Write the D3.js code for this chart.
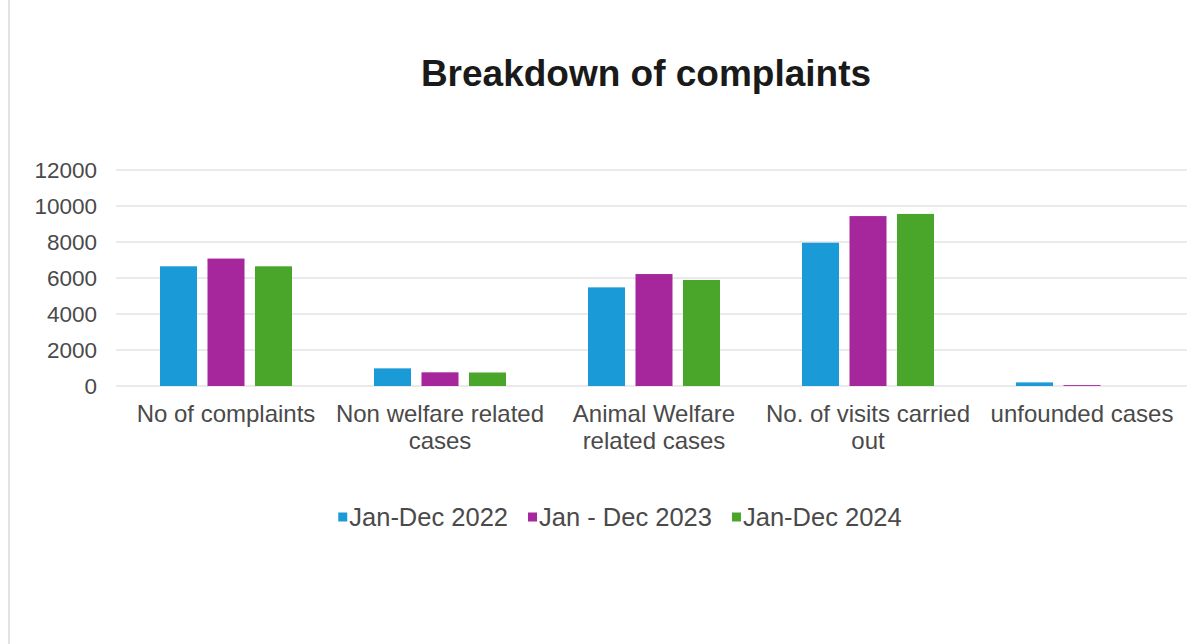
<!DOCTYPE html>
<html><head><meta charset="utf-8">
<script src="https://cdn.jsdelivr.net/npm/d3@7"></script>
<style>body{margin:0;background:#fff;font-family:"Liberation Sans",Arial,sans-serif;}</style>
</head><body><svg id="c" width="1187" height="644"></svg>
<script>
const categories = [["No of complaints"],["Non welfare related","cases"],["Animal Welfare","related cases"],["No. of visits carried","out"],["unfounded cases"]];
const seriesNames = ["Jan-Dec 2022","Jan - Dec 2023","Jan-Dec 2024"];
const s2022 = [6650, 980, 5480, 7960, 200];
const s2023 = [7080, 760, 6220, 9440, 50];
const s2024 = [6650, 750, 5890, 9560, 0];
const yTicks = [0,2000,4000,6000,8000,10000,12000];
const colors = ["#1a9bd7","#a6279b","#4aa62b"];
const series = [s2022, s2023, s2024];

const svg = d3.select("#c");
svg.append("line").attr("x1",9).attr("x2",9).attr("y1",0).attr("y2",644).attr("stroke","#e3e3e3").attr("stroke-width",2);

const x = d3.scaleBand().domain(d3.range(categories.length)).range([119,1189]).paddingInner(0).paddingOuter(0);
const y = d3.scaleLinear().domain([0,12000]).range([386,170]);
const xs = d3.scaleBand().domain(d3.range(3)).range([0,x.bandwidth()]).paddingInner(0.221).paddingOuter(0.863);

svg.append("text").attr("x",646).attr("y",86).attr("text-anchor","middle").attr("font-size",37).attr("font-weight","bold").attr("fill","#1a1a1a").text("Breakdown of complaints");

svg.append("g").selectAll("line").data(yTicks).join("line")
  .attr("x1",116).attr("x2",1187).attr("y1",d=>y(d)).attr("y2",d=>y(d))
  .attr("stroke","#e3e3e3").attr("stroke-width",1.3);

svg.append("g").selectAll("text").data(yTicks).join("text")
  .attr("x",97).attr("y",d=>y(d)+7.5).attr("text-anchor","end").attr("font-size",22.5).attr("fill","#4a4a4a").text(d=>d);

series.forEach((s,i)=>{
  svg.append("g").selectAll("rect").data(s).join("rect")
    .attr("x",(d,j)=>x(j)+xs(i)).attr("width",xs.bandwidth())
    .attr("y",d=>y(d)).attr("height",d=>y(0)-y(d)).attr("fill",colors[i]);
});

const cl = svg.append("g").selectAll("text").data(categories).join("text")
  .attr("text-anchor","middle").attr("font-size",24).attr("fill","#4a4a4a");
cl.each(function(lines,j){
  const t=d3.select(this);
  lines.forEach((l,k)=>t.append("tspan").attr("x",x(j)+x.bandwidth()/2).attr("y",422+k*27).text(l));
});

const lg = svg.append("g");
let cx = 0;
seriesNames.forEach((n,i)=>{
  const g = lg.append("g");
  g.append("rect").attr("x",0).attr("y",-4.5).attr("width",9).attr("height",9).attr("fill",colors[i]);
  const t = g.append("text").attr("x",11).attr("y",8.5).attr("font-size",25.5).attr("fill","#4a4a4a").text(n);
  const w = 11 + t.node().getComputedTextLength();
  g.attr("transform",`translate(${cx},517)`);
  cx += w + 20;
});
const total = cx - 20;
lg.attr("transform",`translate(${620 - total/2},0)`);
</script></body></html>
